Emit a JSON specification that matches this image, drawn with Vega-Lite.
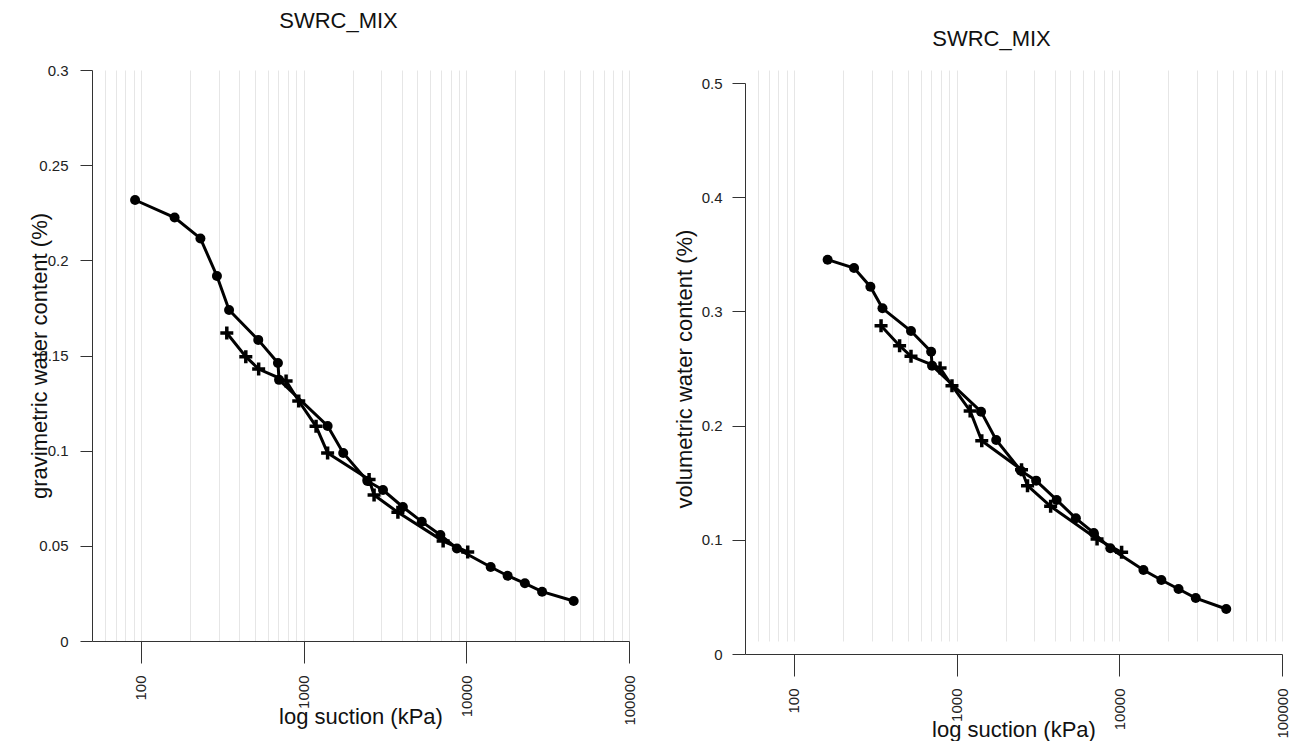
{
  "$schema": "https://vega.github.io/schema/vega-lite/v6.json",
  "padding": {"left": 28, "top": 10, "right": 0, "bottom": 0},
  "spacing": 36,
  "config": {
    "font": "Liberation Sans",
    "view": {"stroke": null},
    "title": {"fontSize": 22, "fontWeight": "normal", "color": "#111", "anchor": "middle", "offset": 30, "dx": -22},
    "axis": {
      "domainColor": "#333", "tickColor": "#333", "labelColor": "#222", "titleColor": "#111",
      "labelFontSize": 15, "titleFontSize": 22, "titleFontWeight": "normal", "labelFont": "Liberation Sans", "titleFont": "Liberation Sans"
    }
  },
  "datasets": {
    "grav": [
      {"series": "drying", "suction": 92, "wc": 0.2317},
      {"series": "drying", "suction": 161, "wc": 0.2225},
      {"series": "drying", "suction": 232, "wc": 0.2115},
      {"series": "drying", "suction": 293, "wc": 0.1918},
      {"series": "drying", "suction": 348, "wc": 0.1739},
      {"series": "drying", "suction": 526, "wc": 0.1582},
      {"series": "drying", "suction": 695, "wc": 0.1461},
      {"series": "drying", "suction": 706, "wc": 0.1372},
      {"series": "drying", "suction": 1404, "wc": 0.113},
      {"series": "drying", "suction": 1751, "wc": 0.0988},
      {"series": "drying", "suction": 2465, "wc": 0.0841},
      {"series": "drying", "suction": 3074, "wc": 0.0793},
      {"series": "drying", "suction": 4074, "wc": 0.0704},
      {"series": "drying", "suction": 5322, "wc": 0.0627},
      {"series": "drying", "suction": 6925, "wc": 0.0557},
      {"series": "drying", "suction": 8750, "wc": 0.0486},
      {"series": "drying", "suction": 14120, "wc": 0.0389},
      {"series": "drying", "suction": 17940, "wc": 0.0343},
      {"series": "drying", "suction": 22910, "wc": 0.0303},
      {"series": "drying", "suction": 29230, "wc": 0.0259},
      {"series": "drying", "suction": 45700, "wc": 0.021},
      {"series": "wetting", "suction": 337, "wc": 0.1618},
      {"series": "wetting", "suction": 441, "wc": 0.1494},
      {"series": "wetting", "suction": 529, "wc": 0.1429},
      {"series": "wetting", "suction": 780, "wc": 0.1366},
      {"series": "wetting", "suction": 933, "wc": 0.1261},
      {"series": "wetting", "suction": 1192, "wc": 0.1128},
      {"series": "wetting", "suction": 1404, "wc": 0.0988},
      {"series": "wetting", "suction": 2525, "wc": 0.0849},
      {"series": "wetting", "suction": 2710, "wc": 0.0767},
      {"series": "wetting", "suction": 3797, "wc": 0.0676},
      {"series": "wetting", "suction": 7203, "wc": 0.0525},
      {"series": "wetting", "suction": 10200, "wc": 0.0468}
    ],
    "vol": [
      {"series": "drying", "suction": 161, "wc": 0.3453},
      {"series": "drying", "suction": 234, "wc": 0.338},
      {"series": "drying", "suction": 295, "wc": 0.3216},
      {"series": "drying", "suction": 350, "wc": 0.3027},
      {"series": "drying", "suction": 524, "wc": 0.2828},
      {"series": "drying", "suction": 697, "wc": 0.2647},
      {"series": "drying", "suction": 706, "wc": 0.2525},
      {"series": "drying", "suction": 1413, "wc": 0.2122},
      {"series": "drying", "suction": 1750, "wc": 0.1874},
      {"series": "drying", "suction": 2481, "wc": 0.1605},
      {"series": "drying", "suction": 3080, "wc": 0.1518},
      {"series": "drying", "suction": 4117, "wc": 0.1349},
      {"series": "drying", "suction": 5408, "wc": 0.1188},
      {"series": "drying", "suction": 6966, "wc": 0.106},
      {"series": "drying", "suction": 8800, "wc": 0.0926},
      {"series": "drying", "suction": 14070, "wc": 0.0736},
      {"series": "drying", "suction": 18130, "wc": 0.0648},
      {"series": "drying", "suction": 23120, "wc": 0.0569},
      {"series": "drying", "suction": 29500, "wc": 0.049},
      {"series": "drying", "suction": 45410, "wc": 0.0394},
      {"series": "wetting", "suction": 343, "wc": 0.2875},
      {"series": "wetting", "suction": 446, "wc": 0.27},
      {"series": "wetting", "suction": 524, "wc": 0.2607},
      {"series": "wetting", "suction": 791, "wc": 0.2504},
      {"series": "wetting", "suction": 936, "wc": 0.2349},
      {"series": "wetting", "suction": 1211, "wc": 0.2128},
      {"series": "wetting", "suction": 1427, "wc": 0.1868},
      {"series": "wetting", "suction": 2505, "wc": 0.1614},
      {"series": "wetting", "suction": 2727, "wc": 0.1474},
      {"series": "wetting", "suction": 3783, "wc": 0.1293},
      {"series": "wetting", "suction": 7298, "wc": 0.1007},
      {"series": "wetting", "suction": 10330, "wc": 0.0891}
    ]
  },
  "hconcat": [
    {
      "width": 537,
      "height": 571,
      "title": {"text": "SWRC_MIX"},
      "data": {"name": "grav"},
      "encoding": {
        "x": {
          "field": "suction", "type": "quantitative",
          "scale": {"type": "log", "domain": [50, 100000], "nice": false},
          "axis": {
            "title": "log suction (kPa)",
            "values": [60, 70, 80, 90, 100, 200, 300, 400, 500, 600, 700, 800, 900, 1000, 2000, 3000, 4000, 5000, 6000, 7000, 8000, 9000, 10000, 20000, 30000, 40000, 50000, 60000, 70000, 80000, 90000, 100000],
            "grid": true, "gridColor": "#e6e6e6", "gridWidth": 1,
            "labelAngle": -90, "labelOverlap": false,
            "labelExpr": "indexof([100,1000,10000,100000], datum.value) >= 0 ? format(datum.value, 'd') : ''",
            "tickOpacity": {"condition": {"test": "indexof([100,1000,10000,100000], datum.value) >= 0", "value": 1}, "value": 0},
            "tickSize": 22, "labelPadding": 12, "titlePadding": -19
          }
        },
        "y": {
          "field": "wc", "type": "quantitative",
          "scale": {"domain": [0, 0.3], "nice": false},
          "axis": {
            "title": "gravimetric water content (%)",
            "values": [0, 0.05, 0.1, 0.15, 0.2, 0.25, 0.3], "format": "~g",
            "grid": false, "tickSize": 12, "labelPadding": 12, "titlePadding": -13
          }
        }
      },
      "layer": [
        {"mark": {"type": "line", "color": "black", "strokeWidth": 3}, "encoding": {"detail": {"field": "series"}}},
        {"transform": [{"filter": "datum.series === 'drying'"}], "mark": {"type": "point", "shape": "circle", "filled": true, "color": "black", "opacity": 1, "size": 100}},
        {"transform": [{"filter": "datum.series === 'wetting'"}], "mark": {"type": "point", "shape": "M-1,0H1M0,-1V1", "filled": false, "color": "black", "strokeWidth": 3.5, "opacity": 1, "size": 169}}
      ]
    },
    {
      "width": 537,
      "height": 584,
      "title": {"text": "SWRC_MIX", "dy": 11},
      "data": {"name": "vol"},
      "encoding": {
        "x": {
          "field": "suction", "type": "quantitative",
          "scale": {"type": "log", "domain": [50, 100000], "nice": false},
          "axis": {
            "title": "log suction (kPa)",
            "values": [60, 70, 80, 90, 100, 200, 300, 400, 500, 600, 700, 800, 900, 1000, 2000, 3000, 4000, 5000, 6000, 7000, 8000, 9000, 10000, 20000, 30000, 40000, 50000, 60000, 70000, 80000, 90000, 100000],
            "grid": true, "gridColor": "#e6e6e6", "gridWidth": 1,
            "labelAngle": -90, "labelOverlap": false,
            "labelExpr": "indexof([100,1000,10000,100000], datum.value) >= 0 ? format(datum.value, 'd') : ''",
            "tickOpacity": {"condition": {"test": "indexof([100,1000,10000,100000], datum.value) >= 0", "value": 1}, "value": 0},
            "tickSize": 22, "labelPadding": 12, "titlePadding": -19
          }
        },
        "y": {
          "field": "wc", "type": "quantitative",
          "scale": {"domain": [0, 0.5], "nice": false, "range": [584, 13]},
          "axis": {
            "title": "volumetric water content (%)",
            "values": [0, 0.1, 0.2, 0.3, 0.4, 0.5], "format": "~g",
            "grid": false, "tickSize": 13, "labelPadding": 10, "titlePadding": 5
          }
        }
      },
      "layer": [
        {"mark": {"type": "line", "color": "black", "strokeWidth": 3}, "encoding": {"detail": {"field": "series"}}},
        {"transform": [{"filter": "datum.series === 'drying'"}], "mark": {"type": "point", "shape": "circle", "filled": true, "color": "black", "opacity": 1, "size": 100}},
        {"transform": [{"filter": "datum.series === 'wetting'"}], "mark": {"type": "point", "shape": "M-1,0H1M0,-1V1", "filled": false, "color": "black", "strokeWidth": 3.5, "opacity": 1, "size": 169}}
      ]
    }
  ]
}
